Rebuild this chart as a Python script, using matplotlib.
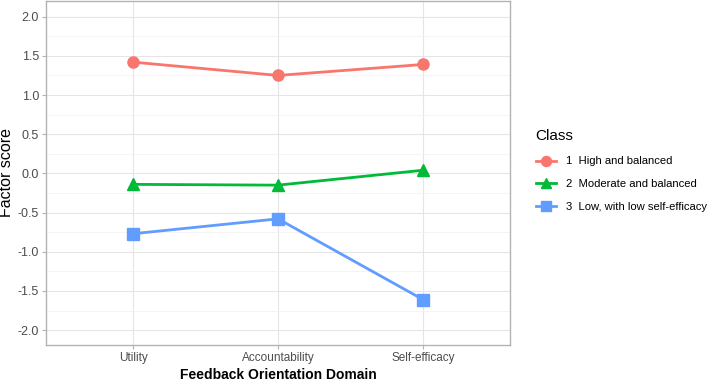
import matplotlib.pyplot as plt
import numpy as np

domains = ['Utility', 'Accountability', 'Self-efficacy']
classes = ['1  High and balanced', '2  Moderate and balanced', '3  Low, with low self-efficacy']
high = [1.42, 1.25, 1.39]
moderate = [-0.14, -0.15, 0.04]
low = [-0.77, -0.58, -1.61]

colors = ['#F8766D', '#00BA38', '#619CFF']
markers = ['o', '^', 's']
yticks = [-2.0, -1.5, -1.0, -0.5, 0.0, 0.5, 1.0, 1.5, 2.0]

plt.rcParams['font.family'] = ['Liberation Sans', 'DejaVu Sans']

fig = plt.figure(figsize=(7.07, 3.83), dpi=100)
ax = fig.add_axes([46 / 707, 1 - 345 / 383, (510 - 46) / 707, 344 / 383])

x = np.arange(1, len(domains) + 1)
for vals, lab, c, m in zip([high, moderate, low], classes, colors, markers):
    ax.plot(x, vals, color=c, lw=2, marker=m, ms=8, label=lab, zorder=3)

ax.set_xlim(0.4, 3.6)
ax.set_ylim(-2.19, 2.2)
ax.set_xticks(x)
ax.set_xticklabels(domains)
ax.set_yticks(yticks)
ax.set_yticklabels([f'{v:.1f}' for v in yticks])
ax.set_yticks(np.arange(-1.75, 2.0, 0.5), minor=True)

ax.grid(which='major', color='#e5e5e5', lw=0.8)
ax.grid(which='minor', axis='y', color='#f2f2f2', lw=0.6)
ax.set_axisbelow(True)
for s in ax.spines.values():
    s.set_color('#b3b3b3')
    s.set_linewidth(1)
ax.tick_params(which='both', length=3, color='#b3b3b3', labelcolor='#4d4d4d', pad=2)
ax.tick_params(axis='y', labelsize=9)
ax.tick_params(axis='x', labelsize=8.5)
ax.tick_params(which='minor', length=0)

ax.set_xlabel('Feedback Orientation Domain', fontsize=10, fontweight='bold', labelpad=3)
ax.set_ylabel('Factor score', fontsize=11.5, labelpad=3)

fig.legend(title='Class', loc='upper left', bbox_to_anchor=(531 / 707, 1 - 125 / 383),
           frameon=False, fontsize=8.1, title_fontsize=11, alignment='left', markerscale=0.9,
           handlelength=1.8, handletextpad=0.9, labelspacing=1.15, borderaxespad=0)

fig.savefig('out.png', dpi=100)
